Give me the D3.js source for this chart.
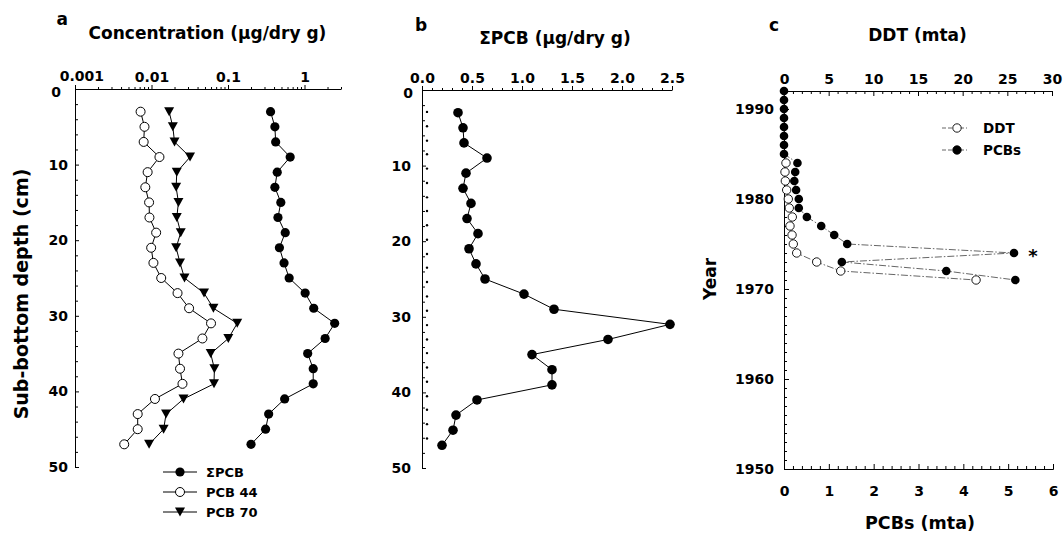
<!DOCTYPE html>
<html><head><meta charset="utf-8">
<script src="https://cdn.jsdelivr.net/npm/d3@7"></script>
<style>
body{margin:0;background:#fff}
svg{display:block}
text{font-family:"DejaVu Sans",sans-serif;font-weight:bold;fill:#000}
</style>
</head><body>
<svg id="chart" width="1063" height="536"></svg>
<script>
// ---------- data ----------
const depths = [3,5,7,9,11,13,15,17,19,21,23,25,27,29,31,33,35,37,39,41,43,45,47];
const sumPCB = [0.36,0.41,0.42,0.65,0.44,0.41,0.49,0.45,0.56,0.47,0.54,0.63,1.02,1.32,2.48,1.86,1.10,1.30,1.30,0.55,0.34,0.31,0.20];
const pcb44  = [0.0072,0.0081,0.0079,0.0127,0.0089,0.0083,0.0093,0.0094,0.0115,0.0099,0.0106,0.0134,0.0219,0.0310,0.060,0.0463,0.0225,0.0236,0.0254,0.0111,0.0066,0.0066,0.0044];
const pcb70  = [0.0170,0.0190,0.0200,0.0319,0.0214,0.0210,0.0225,0.0214,0.0241,0.0210,0.0236,0.0270,0.0486,0.0645,0.132,0.101,0.0594,0.0664,0.0656,0.0262,0.0155,0.0144,0.0093];
const dotDepths = [2.9,4.8,6.7,8.5,10.4,12.3,14.2,16.0,17.9,19.8,21.7,23.5,25.4,27.3,29.2,31.1,33.0,34.8,36.7,38.6,40.5,42.3,44.2,46.1];
const dotValues = [0.05,0.05,0.05,0.05,0.05,0.05,0.05,0.05,0.05,0.05,0.05,0.05,0.05,0.05,0.05,0.05,0.05,0.05,0.05,0.05,0.05,0.05,0.05,0.05];

const pcbYears = [1992,1991,1990,1989,1988,1987,1986,1985,1984,1983,1982,1981,1980,1979,1978,1977,1976,1975,1974,1973,1972,1971];
const pcbFlux  = [0,0,0,0,0,0,0,0,0.30,0.25,0.23,0.27,0.33,0.33,0.51,0.83,1.12,1.41,5.13,1.29,3.62,5.16];
const ddtYears = [1984,1983,1982,1981,1980,1979,1978,1977,1976,1975,1974,1973,1972,1971];
const ddtFlux  = [0.22,0.11,0.15,0.30,0.48,0.59,0.93,0.67,0.90,1.04,1.42,3.66,6.35,21.5];

const concTicks = [0.001,0.01,0.1,1];
const concTickLabels = ["0.001","0.01","0.1","1"];
const depthTicks = [0,10,20,30,40,50];
const sumTicks = [0,0.5,1,1.5,2,2.5];
const sumTickLabels = ["0.0","0.5","1.0","1.5","2.0","2.5"];
const ddtTicks = [0,5,10,15,20,25,30];
const pcbFluxTicks = [0,1,2,3,4,5,6];
const yearTicks = [1950,1960,1970,1980,1990];
const legendA = ["ΣPCB","PCB 44","PCB 70"];
const legendC = ["DDT","PCBs"];

// ---------- setup ----------
const svg = d3.select("#chart");
const FS = 14;
const fmtInt = d3.format("d");
function styleAxis(g){
  g.attr("color","#000").attr("font-family","DejaVu Sans").attr("font-weight","bold").attr("font-size",FS);
  g.selectAll("path,line").attr("stroke-width",1);
  return g;
}
function minorAxis(gen, vals, size, tr){
  const g = svg.append("g").attr("transform",tr).call(gen.tickValues(vals).tickFormat("").tickSize(size));
  g.select(".domain").remove();
  g.attr("color","#000");
}

// ---------- panel a ----------
const ax = d3.scaleLog().domain([0.001,3]).range([75,341]);
const ay = d3.scaleLinear().domain([0,50]).range([89,467]);

const aTop = styleAxis(svg.append("g").attr("transform",`translate(0,${ay(0)})`)
  .call(d3.axisTop(ax).tickValues(concTicks).tickFormat((d,i)=>concTickLabels[i]).tickSize(4).tickSizeOuter(0).tickPadding(3)));
aTop.selectAll(".tick text").filter(d=>d===0.001).attr("dx","0.45em").attr("dy","-0.1em");
const logMinor = [];
[0.001,0.01,0.1,1].forEach(dec=>{for(let m=2;m<=9;m++){const v=dec*m; if(v<=3.0001) logMinor.push(v);}});
minorAxis(d3.axisTop(ax), logMinor, 2, `translate(0,${ay(0)})`);

const aLeft = styleAxis(svg.append("g").attr("transform",`translate(${ax(0.001)},0)`)
  .call(d3.axisLeft(ay).tickValues(depthTicks).tickSize(-4).tickSizeOuter(-4).tickPadding(7)));
aLeft.selectAll(".tick text").filter(d=>d===0).attr("x",-14).attr("dy","0.55em");
minorAxis(d3.axisLeft(ay), d3.range(2,50,2).filter(d=>d%10), -3, `translate(${ax(0.001)},0)`);

const lineA = (vals)=>d3.line().x((d,i)=>ax(vals[i])).y((d,i)=>ay(depths[i]))(depths);
[pcb44,pcb70,sumPCB].forEach(v=>{
  svg.append("path").attr("d",lineA(v)).attr("fill","none").attr("stroke","#000").attr("stroke-width",1);
});
const tri = "M-5,-4.5L5,-4.5L0,4.5Z";
svg.append("g").selectAll("circle").data(depths).join("circle")
  .attr("cx",(d,i)=>ax(pcb44[i])).attr("cy",d=>ay(d)).attr("r",4.5)
  .attr("fill","#fff").attr("stroke","#000").attr("stroke-width",1);
svg.append("g").selectAll("path").data(depths).join("path")
  .attr("d",tri).attr("transform",(d,i)=>`translate(${ax(pcb70[i])},${ay(d)})`).attr("fill","#000");
svg.append("g").selectAll("circle").data(depths).join("circle")
  .attr("cx",(d,i)=>ax(sumPCB[i])).attr("cy",d=>ay(d)).attr("r",4.6).attr("fill","#000");

// legend a
const legRows = [472,492,512];
legendA.forEach((t,i)=>{
  const y = legRows[i];
  svg.append("line").attr("x1",163).attr("x2",197).attr("y1",y).attr("y2",y).attr("stroke","#000");
  if(i===0) svg.append("circle").attr("cx",180).attr("cy",y).attr("r",4.6).attr("fill","#000");
  if(i===1) svg.append("circle").attr("cx",180).attr("cy",y).attr("r",4.5).attr("fill","#fff").attr("stroke","#000");
  if(i===2) svg.append("path").attr("d",tri).attr("transform",`translate(180,${y})`).attr("fill","#000");
  svg.append("text").attr("x",206).attr("y",y+5).attr("font-size",13).text(t);
});

svg.append("text").attr("x",68).attr("y",25).attr("text-anchor","end").attr("font-size",17).text("a");
svg.append("text").attr("x",207.5).attr("y",39).attr("text-anchor","middle").attr("font-size",17).text("Concentration (µg/dry g)");
svg.append("text").attr("transform","translate(28,294) rotate(-90)").attr("text-anchor","middle").attr("font-size",19).text("Sub-bottom depth (cm)");

// ---------- panel b ----------
const bx = d3.scaleLinear().domain([0,2.5]).range([422,672]);
const by = d3.scaleLinear().domain([0,50]).range([90,468]);
styleAxis(svg.append("g").attr("transform",`translate(0,${by(0)})`)
  .call(d3.axisTop(bx).tickValues(sumTicks).tickFormat((d,i)=>sumTickLabels[i]).tickSize(4).tickSizeOuter(0).tickPadding(3)));
minorAxis(d3.axisTop(bx), d3.range(1,25).filter(d=>d%5).map(d=>d/10), 2, `translate(0,${by(0)})`);
const bLeft = styleAxis(svg.append("g").attr("transform",`translate(${bx(0)},0)`)
  .call(d3.axisLeft(by).tickValues(depthTicks).tickSize(-4).tickSizeOuter(-4).tickPadding(11)));
bLeft.selectAll(".tick text").filter(d=>d===0).attr("x",-9).attr("dy","0.55em");
minorAxis(d3.axisLeft(by), d3.range(2,50,2).filter(d=>d%10), -3, `translate(${bx(0)},0)`);

svg.append("path").attr("d",d3.line().x((d,i)=>bx(sumPCB[i])).y(d=>by(d))(depths))
  .attr("fill","none").attr("stroke","#000").attr("stroke-width",1);
svg.append("g").selectAll("circle").data(depths).join("circle")
  .attr("cx",(d,i)=>bx(sumPCB[i])).attr("cy",d=>by(d)).attr("r",4.8).attr("fill","#000");
svg.append("g").selectAll("circle").data(dotDepths).join("circle")
  .attr("cx",(d,i)=>bx(dotValues[i])).attr("cy",d=>by(d)).attr("r",1.2).attr("fill","#000");

svg.append("text").attr("x",421).attr("y",31).attr("text-anchor","middle").attr("font-size",17).text("b");
svg.append("text").attr("x",555).attr("y",44).attr("text-anchor","middle").attr("font-size",17).text("ΣPCB (µg/dry g)");

// ---------- panel c ----------
const cxP = d3.scaleLinear().domain([0,6]).range([784,1053]);
const cxD = d3.scaleLinear().domain([0,30]).range([784,1052]);
const cy = d3.scaleLinear().domain([1950,1992]).range([469,91]);

styleAxis(svg.append("g").attr("transform",`translate(0,${cy(1992)})`)
  .call(d3.axisTop(cxD).tickValues(ddtTicks).tickFormat(fmtInt).tickSize(-5).tickSizeOuter(-5).tickPadding(7)));
minorAxis(d3.axisTop(cxD), d3.range(1,30).filter(d=>d%5), -3, `translate(0,${cy(1992)})`);
styleAxis(svg.append("g").attr("transform",`translate(0,${cy(1950)})`)
  .call(d3.axisBottom(cxP).tickValues(pcbFluxTicks).tickFormat(fmtInt).tickSize(-5).tickSizeOuter(-5).tickPadding(17)));
minorAxis(d3.axisBottom(cxP), d3.range(1,30).filter(d=>d%5).map(d=>d/5), -3, `translate(0,${cy(1950)})`);
styleAxis(svg.append("g").attr("transform",`translate(${cxP(0)},0)`)
  .call(d3.axisLeft(cy).tickValues(yearTicks).tickFormat(fmtInt).tickSize(-5).tickSizeOuter(0).tickPadding(10)));
minorAxis(d3.axisLeft(cy), d3.range(1951,1992).filter(d=>d%10), -3, `translate(${cxP(0)},0)`);

const dash = "7,2,1.5,2";
svg.append("path").attr("d",d3.line().x((d,i)=>cxP(pcbFlux[i])).y(d=>cy(d))(pcbYears))
  .attr("fill","none").attr("stroke","#555").attr("stroke-width",0.9).attr("stroke-dasharray",dash);
svg.append("path").attr("d",d3.line().x((d,i)=>cxD(ddtFlux[i])).y(d=>cy(d))(ddtYears))
  .attr("fill","none").attr("stroke","#555").attr("stroke-width",0.9).attr("stroke-dasharray",dash);
svg.append("g").selectAll("circle").data(pcbYears).join("circle")
  .attr("cx",(d,i)=>cxP(pcbFlux[i])).attr("cy",d=>cy(d)).attr("r",4.3).attr("fill","#000");
svg.append("g").selectAll("circle").data(ddtYears).join("circle")
  .attr("cx",(d,i)=>cxD(ddtFlux[i])).attr("cy",d=>cy(d)).attr("r",4.2)
  .attr("fill","#fff").attr("stroke","#000").attr("stroke-width",0.9);
svg.append("text").attr("x",cxP(pcbFlux[18])+19).attr("y",cy(pcbYears[18])+9).attr("text-anchor","middle").attr("font-size",18).text("*");

// legend c
const legRowsC = [128,150];
legendC.forEach((t,i)=>{
  const y = legRowsC[i];
  svg.append("line").attr("x1",942).attr("x2",967).attr("y1",y).attr("y2",y)
    .attr("stroke","#555").attr("stroke-width",0.9).attr("stroke-dasharray","4,2");
  svg.append("circle").attr("cx",957).attr("cy",y).attr("r",4.2)
    .attr("fill",i===0?"#fff":"#000").attr("stroke","#000").attr("stroke-width",0.9);
  svg.append("text").attr("x",983).attr("y",y+5).attr("font-size",13.5).text(t);
});

svg.append("text").attr("x",774).attr("y",31).attr("text-anchor","middle").attr("font-size",17).text("c");
svg.append("text").attr("x",917.5).attr("y",41).attr("text-anchor","middle").attr("font-size",17).text("DDT (mta)");
svg.append("text").attr("x",920).attr("y",529).attr("text-anchor","middle").attr("font-size",17.5).text("PCBs (mta)");
svg.append("text").attr("transform","translate(716,279) rotate(-90)").attr("text-anchor","middle").attr("font-size",17).text("Year");
</script>
</body></html>
